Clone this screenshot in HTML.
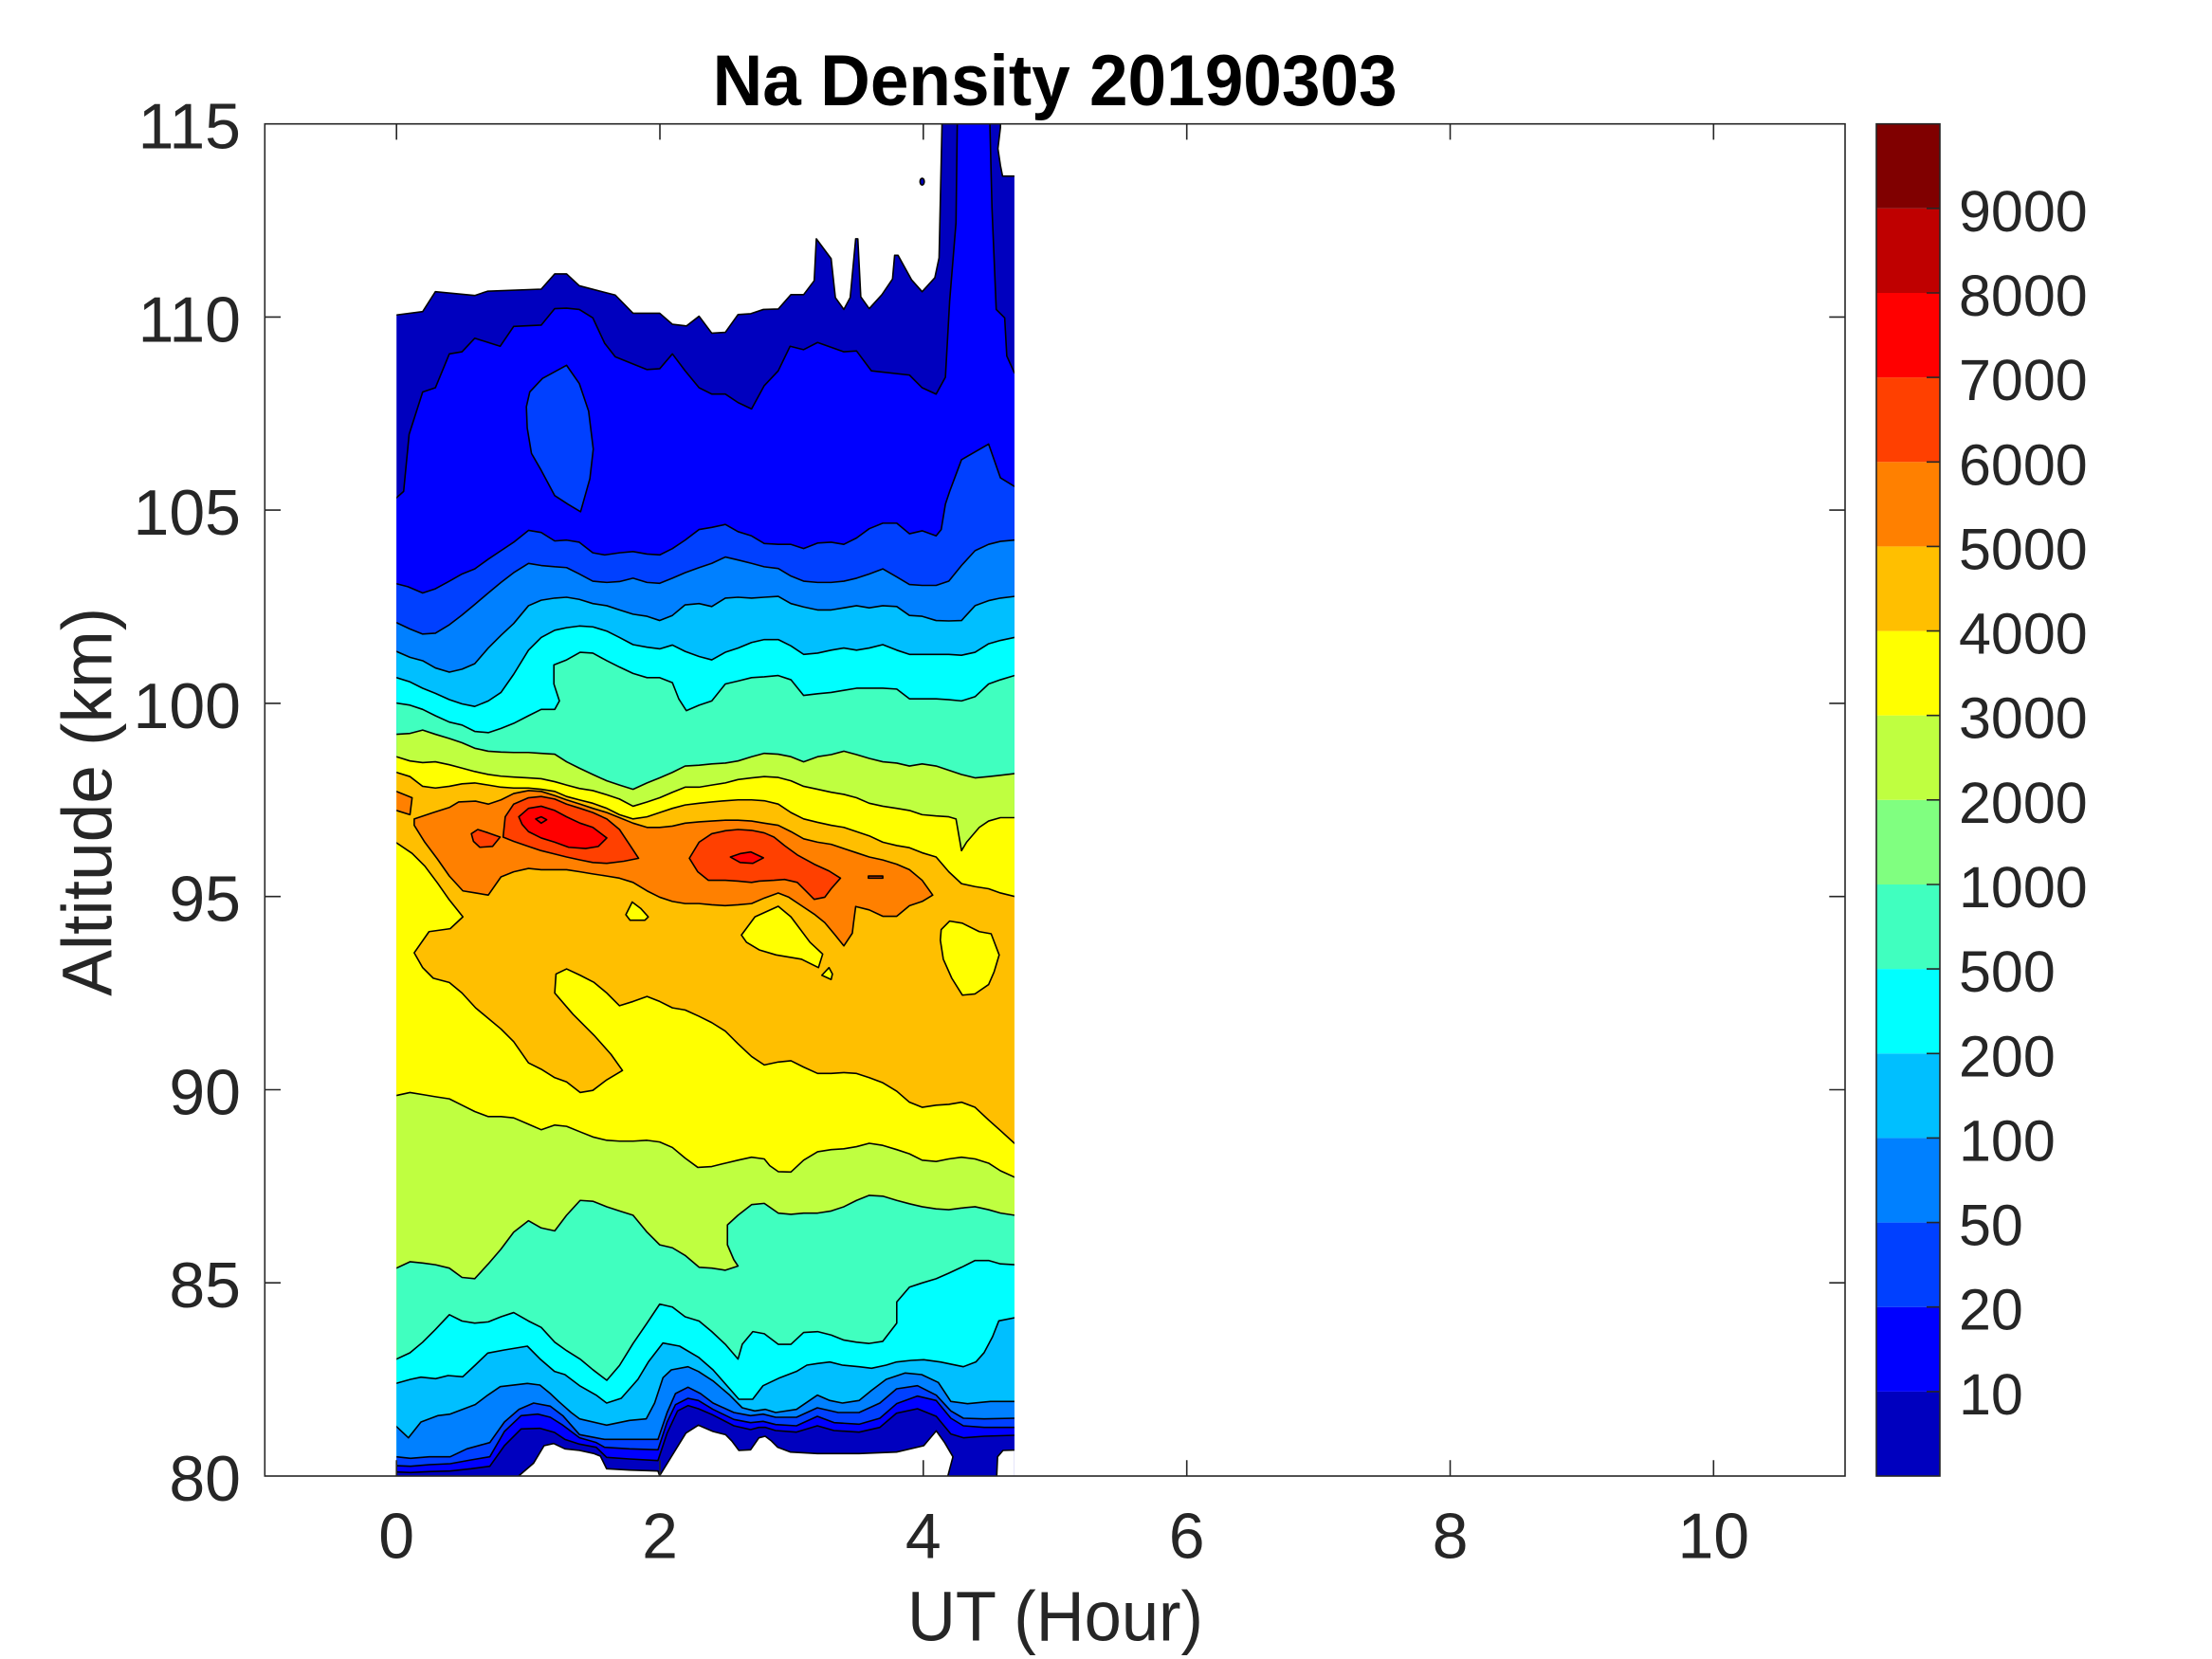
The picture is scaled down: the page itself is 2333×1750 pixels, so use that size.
<!DOCTYPE html>
<html><head><meta charset="utf-8"><style>
html,body{margin:0;padding:0;background:#fff;width:2333px;height:1750px;overflow:hidden;}
svg{display:block;}
text{font-family:"Liberation Sans",Arial,Helvetica,sans-serif;fill:#262626;}
</style></head><body>
<svg width="2333" height="1750" viewBox="0 0 2333 1750" xmlns="http://www.w3.org/2000/svg" overflow="hidden">
<defs><clipPath id="dc"><rect x="418.2" y="130.7" width="651.7" height="1426.3"/></clipPath></defs>
<rect width="2333" height="1750" fill="#fff"/>
<g clip-path="url(#dc)" stroke="#000" stroke-width="1.6" stroke-linejoin="round">
<g transform="translate(390,130) scale(0.446429)">
<polygon vector-effect="non-scaling-stroke" fill="#0000BF" points="40,453 63,453 125,445 155,398 248,407 278,397 405,392 437,356 465,356 495,384 580,406 622,449 685,449 715,475 748,479 778,456 808,496 840,494 870,452 900,450 930,440 965,439 995,405 1025,405 1050,372 1055,273 1090,320 1100,412 1120,440 1135,412 1148,273 1153,273 1160,410 1180,438 1210,405 1235,368 1240,312 1248,312 1280,370 1305,398 1335,365 1345,318 1352,0 1352,-20 1490,-20 1490,10 1484,60 1490,100 1495,125 1545,125 1545,3300 40,3300"/>
<ellipse vector-effect="non-scaling-stroke" fill="#0000BF" cx="1305" cy="138" rx="5" ry="8"/>
<polygon vector-effect="non-scaling-stroke" fill="#0000FF" points="40,885 63,885 80,870 93,735 125,635 155,625 188,545 218,540 248,508 308,527 340,480 405,477 437,438 465,437 495,440 527,460 555,520 580,552 655,582 685,580 715,545 745,585 778,625 808,640 840,640 870,660 902,675 932,620 965,585 993,527 1025,535 1058,518 1120,540 1150,538 1185,585 1275,595 1305,625 1338,640 1360,600 1370,420 1385,235 1388,0 1388,-20 1465,-20 1465,0 1470,200 1480,440 1500,460 1505,550 1523,590 1545,590 1545,3300 40,3300"/>
<polygon vector-effect="non-scaling-stroke" fill="#0040FF" points="465,572 495,615 517,680 528,770 520,840 498,918 468,900 437,880 405,820 382,780 372,720 370,670 378,635 408,603"/>
<polygon vector-effect="non-scaling-stroke" fill="#0040FF" points="40,1088 63,1088 90,1095 125,1110 155,1100 188,1082 218,1065 248,1053 280,1030 310,1010 340,990 375,962 405,967 437,987 465,985 495,990 527,1015 555,1020 590,1015 622,1012 655,1018 685,1020 715,1005 745,985 778,960 808,955 840,948 870,965 902,975 932,993 965,995 995,995 1025,1005 1058,992 1090,990 1120,995 1150,980 1180,958 1212,945 1245,945 1275,970 1305,963 1338,975 1350,960 1360,900 1370,870 1398,795 1462,758 1490,838 1523,858 1545,858 1545,3300 40,3300"/>
<polygon vector-effect="non-scaling-stroke" fill="#0080FF" points="40,1180 63,1180 95,1195 125,1207 155,1205 188,1185 218,1162 248,1137 280,1110 310,1085 340,1062 375,1040 405,1045 437,1048 465,1050 495,1065 527,1082 560,1085 590,1083 622,1075 655,1085 685,1087 715,1075 745,1062 778,1050 808,1040 840,1025 870,1032 902,1040 932,1048 965,1052 995,1070 1025,1082 1058,1085 1090,1085 1120,1082 1150,1075 1180,1065 1212,1053 1245,1072 1275,1090 1305,1092 1338,1092 1368,1082 1398,1045 1430,1010 1462,995 1490,988 1523,985 1545,985 1545,3300 40,3300"/>
<polygon vector-effect="non-scaling-stroke" fill="#00BFFF" points="40,1248 63,1248 95,1262 125,1270 155,1287 188,1297 218,1290 248,1277 280,1240 310,1210 340,1182 375,1140 405,1127 437,1122 465,1120 495,1125 527,1135 560,1140 590,1150 622,1160 655,1165 685,1175 715,1163 745,1138 778,1135 808,1142 840,1122 870,1120 902,1122 932,1120 965,1118 995,1135 1025,1143 1058,1150 1090,1150 1120,1145 1150,1140 1180,1145 1212,1140 1245,1142 1275,1163 1305,1165 1338,1175 1368,1176 1398,1175 1430,1140 1462,1128 1490,1122 1523,1118 1545,1118 1545,3300 40,3300"/>
<polygon vector-effect="non-scaling-stroke" fill="#00FFFF" points="40,1310 63,1310 95,1320 125,1335 155,1347 188,1362 218,1372 248,1378 280,1365 310,1345 340,1302 375,1245 405,1215 437,1198 465,1192 495,1188 527,1190 560,1200 590,1215 622,1232 655,1238 685,1242 715,1233 745,1248 778,1260 808,1268 840,1250 870,1240 902,1227 932,1220 965,1220 995,1235 1025,1255 1058,1252 1090,1245 1120,1240 1150,1245 1180,1240 1212,1232 1245,1245 1275,1255 1305,1255 1338,1255 1368,1255 1398,1257 1430,1250 1462,1230 1490,1222 1523,1215 1545,1215 1545,3300 40,3300"/>
<polygon vector-effect="non-scaling-stroke" fill="#40FFBF" points="40,1370 63,1370 95,1375 125,1385 155,1400 188,1415 218,1422 248,1437 280,1440 310,1430 340,1418 375,1400 405,1385 437,1385 448,1365 435,1325 435,1280 465,1268 497,1250 527,1252 560,1270 590,1285 622,1300 655,1310 685,1310 715,1322 730,1360 748,1388 778,1375 808,1365 840,1325 870,1318 902,1310 932,1308 965,1305 995,1315 1025,1352 1058,1348 1090,1345 1120,1340 1150,1335 1180,1335 1212,1335 1245,1337 1275,1360 1305,1360 1338,1360 1368,1362 1398,1365 1430,1355 1462,1325 1490,1315 1523,1305 1545,1305 1545,3300 40,3300"/>
</g>
<g transform="translate(390,500) scale(0.446429)">
<polygon vector-effect="non-scaling-stroke" fill="#BFFF40" points="40,615 63,615 95,613 125,605 155,615 188,625 218,635 248,648 280,655 310,657 340,658 375,658 405,660 437,662 465,680 495,695 527,710 560,725 590,735 622,745 655,730 685,718 715,705 745,690 778,688 808,685 840,683 870,678 902,668 932,660 965,662 995,668 1025,680 1058,668 1090,663 1120,655 1150,663 1180,672 1212,680 1245,683 1275,690 1305,685 1338,690 1368,700 1398,710 1430,718 1462,715 1490,712 1523,708 1545,708 1545,2450 40,2450"/>
<polygon vector-effect="non-scaling-stroke" fill="#FFFF00" points="40,668 63,668 95,678 125,682 155,680 188,687 218,695 248,703 280,710 310,714 340,716 375,718 405,720 437,727 465,735 495,743 527,748 560,758 590,768 622,785 655,775 685,765 715,752 745,740 778,740 808,735 840,730 870,722 902,718 932,715 965,717 995,725 1025,738 1058,745 1090,752 1120,757 1150,765 1180,778 1212,785 1245,790 1275,795 1305,805 1338,808 1368,810 1385,815 1398,890 1410,870 1440,835 1462,820 1490,812 1523,812 1545,812 1545,2450 40,2450"/>
<polygon vector-effect="non-scaling-stroke" fill="#FFBF00" points="40,705 63,705 95,715 125,738 155,742 188,738 218,732 248,730 280,735 310,740 340,742 375,742 405,745 437,750 465,762 495,770 527,778 560,790 590,805 622,815 655,810 685,800 715,790 745,782 778,778 808,775 840,772 870,770 902,770 932,772 965,780 995,800 1025,815 1058,823 1090,830 1120,835 1150,845 1180,855 1212,870 1245,878 1275,883 1305,895 1338,905 1368,940 1398,968 1430,975 1462,980 1490,990 1523,998 1545,998 1545,2450 40,2450"/>
<polygon vector-effect="non-scaling-stroke" fill="#FF8000" points="40,750 63,750 100,765 95,805 63,795 40,795"/>
<polygon vector-effect="non-scaling-stroke" fill="#FF8000" points="105,815 150,800 188,788 210,775 250,773 280,780 310,770 340,755 375,748 405,750 437,760 465,770 497,780 527,790 560,800 590,812 622,825 655,835 685,835 715,832 745,825 778,822 808,820 840,818 870,818 902,820 932,825 965,830 995,845 1025,862 1058,870 1090,875 1120,885 1150,895 1180,905 1212,912 1245,922 1275,935 1305,960 1330,995 1305,1010 1275,1020 1245,1045 1212,1045 1180,1030 1148,1022 1143,1060 1140,1085 1120,1115 1100,1090 1075,1060 1050,1040 1020,1020 990,1000 965,990 932,1002 902,1015 870,1018 840,1020 808,1018 778,1015 745,1015 715,1010 685,1000 655,985 622,965 590,955 560,950 527,945 497,940 465,935 437,935 405,935 375,932 340,940 310,952 280,995 250,990 220,985 188,950 160,910 130,870 105,830"/>
<polygon vector-effect="non-scaling-stroke" fill="#FF4000" points="240,850 255,840 280,848 308,858 290,880 260,882 245,868"/>
<polygon vector-effect="non-scaling-stroke" fill="#FF4000" points="315,858 320,810 340,780 375,765 405,762 437,768 465,780 497,790 527,800 560,815 590,840 610,870 635,908 600,915 560,920 527,918 497,912 465,905 437,898 405,890 375,880 340,868"/>
<polygon vector-effect="non-scaling-stroke" fill="#FF4000" points="755,908 778,870 808,850 840,843 870,840 902,842 932,848 955,858 980,878 1010,900 1050,922 1085,938 1112,955 1090,980 1075,1000 1050,1005 1030,985 1010,965 980,958 955,960 920,962 902,965 870,962 840,960 800,960 775,940"/>
<polygon vector-effect="non-scaling-stroke" fill="#FF4000" points="1178,950 1212,950 1212,955 1178,955"/>
<polygon vector-effect="non-scaling-stroke" fill="#FF0000" points="352,810 375,790 405,785 437,795 465,810 497,825 527,835 560,860 540,880 510,885 470,882 437,870 405,860 375,845 360,828"/>
<polygon vector-effect="non-scaling-stroke" fill="#FF0000" points="392,815 405,810 418,817 405,825"/>
<polygon vector-effect="non-scaling-stroke" fill="#FF0000" points="852,905 875,897 900,893 930,907 905,920 875,918"/>
</g>
<g transform="translate(390,860) scale(0.446429)">
<polygon vector-effect="non-scaling-stroke" fill="#FFFF00" points="40,65 63,65 100,90 130,120 160,160 188,200 220,240 190,268 140,275 105,325 125,360 150,385 188,395 218,420 250,455 310,505 340,535 375,585 405,600 437,620 465,630 497,655 527,650 560,625 597,603 570,565 530,520 480,470 437,420 440,375 465,363 497,378 530,395 560,420 590,450 622,440 655,428 685,440 715,455 745,460 778,475 808,490 840,510 870,540 902,570 932,590 965,583 995,580 1025,595 1058,610 1090,610 1120,608 1150,610 1180,620 1212,632 1245,652 1275,678 1305,690 1338,685 1368,683 1398,678 1430,690 1462,720 1490,745 1523,775 1545,790 1545,1650 40,1650"/>
<polygon vector-effect="non-scaling-stroke" fill="#FFFF00" points="605,235 620,205 640,220 658,240 650,248 615,248"/>
<polygon vector-effect="non-scaling-stroke" fill="#FFFF00" points="878,283 910,240 965,215 995,240 1040,300 1070,328 1060,360 1020,340 960,330 920,318 890,300"/>
<polygon vector-effect="non-scaling-stroke" fill="#FFFF00" points="1068,378 1085,360 1093,375 1090,388"/>
<polygon vector-effect="non-scaling-stroke" fill="#FFFF00" points="1350,270 1370,250 1400,255 1440,275 1468,280 1487,330 1475,370 1462,400 1430,422 1400,425 1375,385 1355,340 1348,295"/>
<polygon vector-effect="non-scaling-stroke" fill="#BFFF40" points="40,662 63,662 95,655 125,660 155,665 188,670 218,685 248,700 280,712 310,712 340,715 375,730 405,743 437,732 465,735 497,748 527,760 560,768 590,770 622,770 655,768 685,772 715,785 745,810 775,832 808,830 840,822 870,815 902,808 932,812 945,828 965,842 995,843 1025,815 1058,795 1090,790 1120,788 1150,783 1180,775 1212,780 1245,790 1275,800 1305,815 1338,818 1368,812 1398,808 1430,812 1462,822 1490,840 1523,855 1545,855 1545,1650 40,1650"/>
<polygon vector-effect="non-scaling-stroke" fill="#40FFBF" points="40,1070 63,1070 95,1055 125,1058 155,1062 188,1070 218,1092 248,1095 280,1060 310,1025 340,985 375,958 405,975 437,982 465,945 497,910 527,912 560,925 590,935 622,945 655,985 685,1015 715,1022 745,1040 778,1068 808,1070 840,1075 870,1065 860,1050 845,1015 845,968 870,945 902,920 932,917 965,940 995,943 1025,940 1058,940 1090,935 1120,925 1150,910 1180,898 1212,900 1245,910 1275,918 1305,925 1338,930 1368,932 1398,928 1430,925 1462,932 1490,940 1523,945 1545,945 1545,1650 40,1650"/>
<polygon vector-effect="non-scaling-stroke" fill="#00FFFF" points="40,1285 63,1285 95,1270 125,1245 155,1215 188,1180 218,1195 248,1200 280,1197 310,1185 340,1175 375,1195 405,1210 437,1245 465,1265 497,1285 527,1310 560,1335 590,1300 622,1248 655,1200 685,1155 715,1162 745,1185 778,1195 808,1220 840,1250 870,1285 880,1250 905,1220 932,1225 965,1250 995,1250 1025,1222 1058,1220 1090,1228 1120,1240 1150,1245 1180,1248 1212,1243 1245,1200 1245,1150 1275,1115 1305,1105 1338,1095 1368,1082 1398,1068 1430,1052 1462,1052 1490,1060 1523,1062 1545,1062 1545,1650 40,1650"/>
</g>
<g transform="translate(400,1390) scale(0.440044,0.333333)">
<polygon vector-effect="non-scaling-stroke" fill="#00BFFF" points="20,208 40,208 75,195 100,188 135,193 165,183 200,187 230,150 260,112 300,102 355,90 385,130 420,170 445,180 480,215 520,245 545,270 580,255 620,195 645,140 680,80 720,90 765,125 800,165 830,210 862,258 895,258 920,215 960,190 1000,170 1025,150 1050,145 1080,140 1110,150 1150,155 1180,160 1215,150 1240,140 1275,135 1305,133 1345,140 1400,155 1430,140 1450,110 1470,60 1485,10 1523,0 1545,0 1545,540 20,540"/>
<polygon vector-effect="non-scaling-stroke" fill="#0080FF" points="20,343 40,343 70,380 100,330 140,310 170,305 230,275 260,245 290,218 355,208 385,213 410,240 430,265 460,300 480,320 545,340 600,325 640,320 660,270 680,190 700,165 740,155 765,170 800,200 840,245 870,285 900,295 925,290 950,300 1000,290 1050,245 1080,262 1110,270 1150,262 1180,230 1215,195 1260,175 1300,180 1340,205 1370,265 1410,272 1465,265 1523,265 1545,265 1545,540 20,540"/>
<polygon vector-effect="non-scaling-stroke" fill="#0040FF" points="20,440 40,440 75,445 120,440 170,440 210,415 265,395 300,330 335,290 370,270 410,280 440,310 480,370 540,385 600,385 668,385 690,300 710,240 740,220 770,240 800,270 850,300 890,310 920,305 950,315 1000,315 1050,285 1100,300 1150,300 1200,270 1240,225 1290,215 1335,245 1370,295 1400,318 1450,320 1523,318 1545,318 1545,540 20,540"/>
<polygon vector-effect="non-scaling-stroke" fill="#0000FF" points="20,468 40,468 75,470 120,465 170,462 220,450 265,440 300,360 340,310 380,305 410,315 440,340 480,380 520,395 540,410 600,415 668,418 690,330 710,275 740,255 765,262 800,290 850,322 890,332 920,328 950,338 1000,342 1050,312 1090,332 1150,337 1200,318 1240,272 1290,248 1335,262 1370,318 1400,342 1450,347 1523,347 1545,347 1545,540 20,540"/>
<polygon vector-effect="non-scaling-stroke" fill="#0000BF" points="20,488 40,488 75,490 120,487 170,485 220,478 265,470 300,405 340,352 385,350 420,363 445,385 480,400 520,410 545,442 600,447 668,452 690,365 715,295 740,278 765,288 800,308 850,342 890,354 910,347 925,347 950,357 1000,362 1050,342 1090,357 1150,362 1200,347 1240,302 1290,288 1335,312 1370,368 1400,380 1450,375 1523,372 1545,372 1545,540 20,540"/>
<polygon vector-effect="non-scaling-stroke" fill="#FFFFFF" points="320,540 335,500 370,460 395,405 418,398 445,415 480,420 515,430 530,438 545,478 600,482 668,485 672,500 735,365 765,340 800,360 830,370 845,390 862,420 890,418 910,380 925,375 940,390 955,410 985,425 1050,430 1150,430 1240,425 1305,405 1335,358 1355,395 1375,440 1362,505 1362,540"/>
<polygon vector-effect="non-scaling-stroke" fill="#FFFFFF" points="1480,540 1480,500 1482,440 1495,420 1545,418 1545,540"/>
</g>
</g>
<g stroke="#262626" stroke-width="1.6" fill="none">
<rect x="279.3" y="130.7" width="1666.7" height="1426.3"/>
<path d="M418.2,1557V1540.3M696,1557V1540.3M973.8,1557V1540.3M1251.7,1557V1540.3M1529.5,1557V1540.3M1807.3,1557V1540.3
M418.2,130.7V147.4M696,130.7V147.4M973.8,130.7V147.4M1251.7,130.7V147.4M1529.5,130.7V147.4M1807.3,130.7V147.4
M279.3,1353.2H296M279.3,1149.5H296M279.3,945.7H296M279.3,741.9H296M279.3,538.1H296M279.3,334.4H296
M1946,1353.2H1929.3M1946,1149.5H1929.3M1946,945.7H1929.3M1946,741.9H1929.3M1946,538.1H1929.3M1946,334.4H1929.3"/>
</g>
<g font-size="68" text-anchor="end">
<text x="254" y="1583">80</text>
<text x="254" y="1379.2">85</text>
<text x="254" y="1175.5">90</text>
<text x="254" y="971.7">95</text>
<text x="254" y="767.9">100</text>
<text x="254" y="564.1">105</text>
<text x="254" y="360.4">110</text>
<text x="254" y="156.7">115</text>
</g>
<g font-size="68" text-anchor="middle">
<text x="418.2" y="1643.3">0</text>
<text x="696" y="1643.3">2</text>
<text x="973.8" y="1643.3">4</text>
<text x="1251.7" y="1643.3">6</text>
<text x="1529.5" y="1643.3">8</text>
<text x="1807.3" y="1643.3">10</text>
</g>
<text x="1113" y="1730.5" font-size="74" text-anchor="middle" textLength="312" lengthAdjust="spacingAndGlyphs">UT (Hour)</text>
<text transform="translate(117.3,845.8) rotate(-90)" font-size="74" text-anchor="middle" textLength="410" lengthAdjust="spacingAndGlyphs">Altitude (km)</text>
<text x="1112.6" y="111" font-size="76" font-weight="bold" text-anchor="middle" style="fill:#000" textLength="722" lengthAdjust="spacingAndGlyphs">Na Density 20190303</text>
<g stroke="none">
<rect x="1979" y="1467.9" width="67" height="89.1" fill="#0000BF"/>
<rect x="1979" y="1378.7" width="67" height="89.2" fill="#0000FF"/>
<rect x="1979" y="1289.6" width="67" height="89.1" fill="#0040FF"/>
<rect x="1979" y="1200.4" width="67" height="89.2" fill="#0080FF"/>
<rect x="1979" y="1111.3" width="67" height="89.1" fill="#00BFFF"/>
<rect x="1979" y="1022.1" width="67" height="89.2" fill="#00FFFF"/>
<rect x="1979" y="933" width="67" height="89.1" fill="#40FFBF"/>
<rect x="1979" y="843.8" width="67" height="89.2" fill="#80FF80"/>
<rect x="1979" y="754.7" width="67" height="89.1" fill="#BFFF40"/>
<rect x="1979" y="665.6" width="67" height="89.1" fill="#FFFF00"/>
<rect x="1979" y="576.4" width="67" height="89.2" fill="#FFBF00"/>
<rect x="1979" y="487.3" width="67" height="89.1" fill="#FF8000"/>
<rect x="1979" y="398.1" width="67" height="89.2" fill="#FF4000"/>
<rect x="1979" y="309" width="67" height="89.1" fill="#FF0000"/>
<rect x="1979" y="219.8" width="67" height="89.2" fill="#BF0000"/>
<rect x="1979" y="130.7" width="67" height="89.1" fill="#800000"/>
</g>
<g stroke="#262626" stroke-width="1.6" fill="none">
<rect x="1979" y="130.7" width="67" height="1426.3"/>
<path d="M2046,1467.9H2032M2046,1378.7H2032M2046,1289.6H2032M2046,1200.4H2032M2046,1111.3H2032M2046,1022.1H2032M2046,933H2032M2046,843.8H2032M2046,754.7H2032M2046,665.6H2032M2046,576.4H2032M2046,487.3H2032M2046,398.1H2032M2046,309H2032M2046,219.8H2032"/>
</g>
<g font-size="61">
<text x="2066" y="1491.9">10</text>
<text x="2066" y="1402.7">20</text>
<text x="2066" y="1313.6">50</text>
<text x="2066" y="1224.4">100</text>
<text x="2066" y="1135.3">200</text>
<text x="2066" y="1046.1">500</text>
<text x="2066" y="957">1000</text>
<text x="2066" y="867.8">2000</text>
<text x="2066" y="778.7">3000</text>
<text x="2066" y="689.6">4000</text>
<text x="2066" y="600.4">5000</text>
<text x="2066" y="511.3">6000</text>
<text x="2066" y="422.1">7000</text>
<text x="2066" y="333">8000</text>
<text x="2066" y="243.8">9000</text>
</g>
</svg>
</body></html>
